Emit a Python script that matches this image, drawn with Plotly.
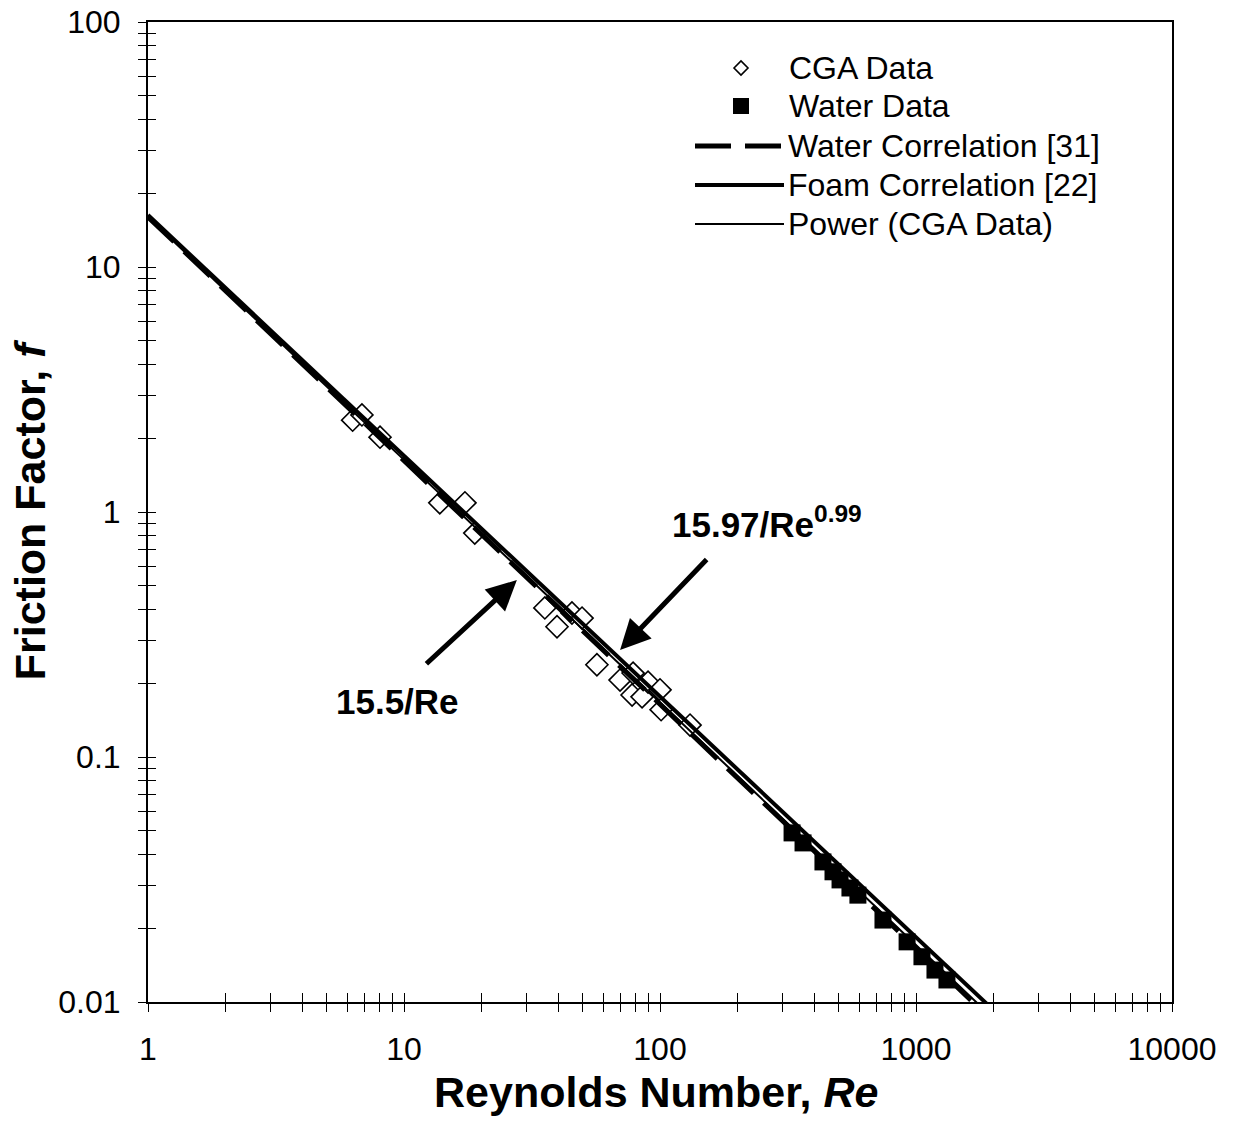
import plotly.graph_objects as go

# ---------------- data ----------------
cga_re = [6.3, 6.85, 8.06, 13.8, 17.3, 18.9, 35.5, 39.6, 45.3, 49.6, 56.7, 69.8, 77.8, 78.5, 85.1, 89.8, 100, 101, 131]
cga_f = [2.37, 2.49, 2.02, 1.09, 1.09, 0.82, 0.406, 0.34, 0.387, 0.369, 0.238, 0.206, 0.179, 0.220, 0.176, 0.202, 0.188, 0.156, 0.135]

water_re = [328, 362, 433, 474, 505, 552, 593, 743, 923, 1055, 1186, 1321]
water_f = [0.0490, 0.0446, 0.0373, 0.0340, 0.0315, 0.0292, 0.0273, 0.0216, 0.0176, 0.0153, 0.0135, 0.0123]

# correlation lines (end points)
water_corr_re = [1, 2000]
water_corr_f = [16.0, 0.00835]
foam_corr_re = [1, 2000]
foam_corr_f = [16.3, 0.0093]
power_re = [1, 2000]
power_f = [15.97, 0.0086]

X_TICK_LABELS = ["1", "10", "100", "1000", "10000"]
Y_TICK_LABELS = ["0.01", "0.1", "1", "10", "100"]

# ---------------- ticks ----------------
x_decades = [1, 10, 100, 1000]
xtickvals, xticktext = [], []
for i, d in enumerate(x_decades):
    for m in range(1, 10):
        xtickvals.append(m * d)
        xticktext.append(X_TICK_LABELS[i] if m == 1 else "")
xtickvals.append(10000)
xticktext.append(X_TICK_LABELS[-1])

y_decades = [0.01, 0.1, 1, 10]
ytickvals, yticktext = [], []
for i, d in enumerate(y_decades):
    for m in range(1, 10):
        ytickvals.append(m * d)
        yticktext.append(Y_TICK_LABELS[i] if m == 1 else "")
ytickvals.append(100)
yticktext.append(Y_TICK_LABELS[-1])

FONT = "Liberation Sans, Arial, sans-serif"
BLACK = "#000000"

fig = go.Figure()

fig.add_trace(go.Scatter(
    x=cga_re, y=cga_f, mode="markers", name="CGA Data",
    marker=dict(symbol="diamond", size=17, color="white", line=dict(color=BLACK, width=1.6)),
    showlegend=False))
fig.add_trace(go.Scatter(
    x=water_re, y=water_f, mode="markers", name="Water Data",
    marker=dict(symbol="square", size=17, color=BLACK, line=dict(width=0)),
    showlegend=False))
fig.add_trace(go.Scatter(
    x=water_corr_re, y=water_corr_f, mode="lines", name="Water Correlation [31]",
    line=dict(color=BLACK, width=5, dash="36px,14px"), showlegend=False))
fig.add_trace(go.Scatter(
    x=foam_corr_re, y=foam_corr_f, mode="lines", name="Foam Correlation [22]",
    line=dict(color=BLACK, width=4), showlegend=False))
fig.add_trace(go.Scatter(
    x=power_re, y=power_f, mode="lines", name="Power (CGA Data)",
    line=dict(color=BLACK, width=2), showlegend=False, xaxis="x2", yaxis="y2"))

xrange_log = [0, 4]
yrange_log = [-2, 2]

common_tick = dict(tickfont=dict(family=FONT, size=32, color=BLACK))

fig.update_layout(
    width=1234, height=1132,
    margin=dict(l=148, r=62, t=22, b=130, pad=0, autoexpand=False),
    paper_bgcolor="white", plot_bgcolor="white",
    font=dict(family=FONT, color=BLACK),
    xaxis=dict(type="log", range=xrange_log, showgrid=False, zeroline=False, automargin=False,
               showline=True, linecolor=BLACK, linewidth=2, mirror=True,
               tickmode="array", tickvals=xtickvals, ticktext=xticktext,
               ticks="outside", ticklen=8, tickwidth=1.3, tickcolor=BLACK,
               ticklabelstandoff=10, **common_tick),
    yaxis=dict(type="log", range=yrange_log, showgrid=False, zeroline=False, automargin=False,
               showline=True, linecolor=BLACK, linewidth=2, mirror=True,
               tickmode="array", tickvals=ytickvals, ticktext=yticktext,
               ticks="outside", ticklen=8, tickwidth=1.3, tickcolor=BLACK,
               ticklabelstandoff=11, **common_tick),
    xaxis2=dict(type="log", range=xrange_log, overlaying="x", anchor="y", side="bottom",
                showgrid=False, zeroline=False, showline=False, automargin=False,
                tickmode="array", tickvals=xtickvals, showticklabels=False,
                ticks="inside", ticklen=9, tickwidth=1.3, tickcolor=BLACK),
    yaxis2=dict(type="log", range=yrange_log, overlaying="y", anchor="x", side="left",
                showgrid=False, zeroline=False, showline=False, automargin=False,
                tickmode="array", tickvals=ytickvals, showticklabels=False,
                ticks="inside", ticklen=8, tickwidth=1.3, tickcolor=BLACK),
    showlegend=False,
)

# ---------------- axis titles ----------------
fig.add_annotation(text="<b>Reynolds Number, <i>Re</i></b>", xref="paper", yref="paper",
                   x=0.496, y=-0.0918, xanchor="center", yanchor="middle", showarrow=False,
                   font=dict(family=FONT, size=43, color=BLACK))
fig.add_annotation(text="<b>Friction Factor, <i>f</i></b>", xref="paper", yref="paper",
                   x=-0.115, y=0.502, xanchor="center", yanchor="middle", showarrow=False,
                   textangle=-90, font=dict(family=FONT, size=43, color=BLACK))

# ---------------- equation labels + arrows ----------------
fig.add_annotation(text="<b>15.5/Re</b>", xref="paper", yref="paper",
                   x=(397 - 148) / 1024, y=1 - (701 - 22) / 980, xanchor="center", yanchor="middle",
                   showarrow=False, font=dict(family=FONT, size=35, color=BLACK))
fig.add_annotation(text="<b>15.97/Re<sup>0.99</sup></b>", xref="paper", yref="paper",
                   x=(670 - 148) / 1024, y=1 - (522 - 22) / 980, xanchor="left", yanchor="middle",
                   showarrow=False, font=dict(family=FONT, size=35, color=BLACK))

fig.add_annotation(x=1.441, y=-0.278, xref="x", yref="y", text="",
                   showarrow=True, arrowhead=2, arrowsize=1.2, arrowwidth=5, arrowcolor=BLACK,
                   ax=-92, ay=85, standoff=0)
fig.add_annotation(x=1.844, y=-0.563, xref="x", yref="y", text="",
                   showarrow=True, arrowhead=2, arrowsize=1.2, arrowwidth=5, arrowcolor=BLACK,
                   ax=88, ay=-92, standoff=0)

# ---------------- legend (drawn manually) ----------------
def px_x(px):
    return (px - 148) / 1024

def px_y(py):
    return 1 - (py - 22) / 980

legend_items = [
    ("CGA Data", "diamond", 68),
    ("Water Data", "square", 106),
    ("Water Correlation [31]", "dash", 146),
    ("Foam Correlation [22]", "thick", 185),
    ("Power (CGA Data)", "thin", 224),
]
for label, kind, py in legend_items:
    if kind == "diamond":
        cx, cy, h = 741, py, 7
        path = "M {} {} L {} {} L {} {} L {} {} Z".format(
            px_x(cx - h), px_y(cy), px_x(cx), px_y(cy - h), px_x(cx + h), px_y(cy), px_x(cx), px_y(cy + h))
        fig.add_shape(type="path", path=path, xref="paper", yref="paper",
                      line=dict(color=BLACK, width=1.6), fillcolor="white")
        tx = 787
    elif kind == "square":
        cx, cy, h = 741, py, 8
        fig.add_shape(type="rect", xref="paper", yref="paper",
                      x0=px_x(cx - h), x1=px_x(cx + h), y0=px_y(cy + h), y1=px_y(cy - h),
                      line=dict(width=0), fillcolor=BLACK)
        tx = 787
    else:
        width = {"dash": 5, "thick": 4, "thin": 2}[kind]
        dash = "36px,14px" if kind == "dash" else "solid"
        fig.add_shape(type="line", xref="paper", yref="paper",
                      x0=px_x(695), x1=px_x(784), y0=px_y(py), y1=px_y(py),
                      line=dict(color=BLACK, width=width, dash=dash))
        tx = 786
    fig.add_annotation(text=label, xref="paper", yref="paper", x=px_x(tx), y=px_y(py),
                       xanchor="left", yanchor="middle", showarrow=False,
                       font=dict(family=FONT, size=32, color=BLACK))

fig.write_html("out.html")
